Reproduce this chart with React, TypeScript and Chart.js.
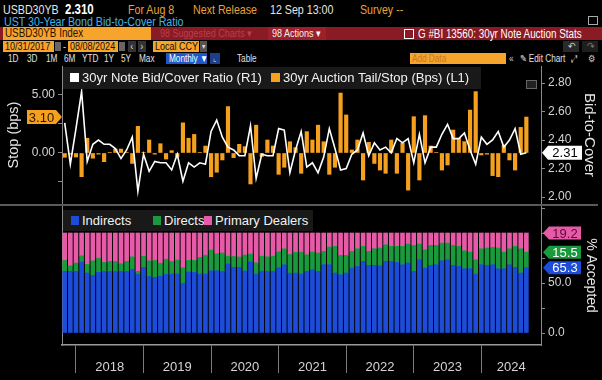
import React, { useEffect, useRef } from "react";
import { Chart, registerables } from "chart.js";
Chart.register(...registerables);

// Monthly 30yr auctions, Nov 2017 (index 0) .. Aug 2024 (index 82)
const stopBps = [
  -0.37, -0.1, -0.35, -2.04, 1.27, -0.45, -0.1, -0.75, 0.05, 0.34,
  0.34, 0.05, -0.9, 2.3, 0.05, 1.12, -0.1, 0.8, -0.52, 0.2,
  -0.3, 2.6, 1.27, 1.6, 0.05, 0.6, -2.05, -1.66, -0.6, 4.0,
  -0.4, 0.75, 0.55, -2.67, 2.4, -0.3, 1.12, 0.6, -1.84, -1.23,
  0.97, 0.46, -1.75, 1.84, 1.12, 2.4, 0.97, -1.84, -1.23, 5.17,
  3.28, 0.26, 1.12, -2.33, 0.92, -0.9, -1.47, -1.75, 1.12, -1.75,
  0.83, -3.2, 3.13, -2.33, 3.22, 0.6, 0.05, -1.47, -1.03, 1.98,
  1.26, 0.98, 3.7, 5.29, -0.17, -0.1, -1.95, -2.04, 0.69, -0.6,
  -1.47, 2.21, 3.1,
];
const bidCover = [
  2.52, 2.23, 2.48, 2.74, 2.25, 2.37, 2.4, 2.37, 2.37, 2.34,
  2.27, 2.33, 2.42, 2.04, 2.3, 2.18, 2.25, 2.24, 2.24, 2.19,
  2.3, 2.11, 2.24, 2.21, 2.24, 2.23, 2.46, 2.54, 2.42, 2.35,
  2.33, 2.29, 2.29, 2.5, 2.13, 2.3, 2.29, 2.29, 2.48, 2.47,
  2.17, 2.33, 2.46, 2.21, 2.24, 2.17, 2.28, 2.48, 2.34, 2.19,
  2.2, 2.3, 2.33, 2.45, 2.29, 2.38, 2.33, 2.35, 2.31, 2.41,
  2.38, 2.41, 2.24, 2.44, 2.24, 2.35, 2.35, 2.44, 2.51, 2.41,
  2.41, 2.45, 2.33, 2.23, 2.42, 2.37, 2.4, 2.46, 2.35, 2.4,
  2.48, 2.3, 2.31,
];
const indirects = [
  61.7, 61.5, 61.5, 71.0, 60.0, 57.7, 60.7, 61.5, 61.5, 61.5,
  61.5, 61.5, 63.5, 58.5, 65.7, 56.5, 55.7, 56.8, 58.7, 59.0,
  59.0, 49.8, 61.0, 60.7, 59.0, 59.0, 62.3, 62.3, 61.5, 69.0,
  65.7, 65.7, 62.0, 71.2, 59.0, 61.8, 61.7, 61.7, 65.3, 68.2,
  59.8, 60.0, 59.0, 61.7, 63.3, 61.7, 68.3, 68.3, 60.0, 58.3,
  60.0, 65.0, 66.7, 71.7, 67.7, 67.7, 67.2, 71.7, 71.7, 70.7,
  68.3, 70.0, 61.7, 73.3, 65.0, 67.7, 68.3, 72.3, 73.3, 67.7,
  66.7, 64.3, 64.3, 59.0, 68.3, 67.7, 68.3, 64.3, 64.3, 68.3,
  65.7, 60.0, 65.3,
];
const directs = [
  10.8, 5.7, 8.5, 6.2, 8.7, 14.5, 14.1, 9.0, 10.0, 10.0,
  7.8, 10.0, 12.7, 3.0, 11.1, 15.7, 16.8, 13.0, 15.1, 12.5,
  14.0, 15.5, 11.7, 12.0, 16.7, 18.8, 20.7, 17.0, 18.5, 7.8,
  10.8, 10.3, 16.0, 7.8, 11.2, 15.0, 14.6, 15.1, 15.9, 16.0,
  18.7, 20.7, 22.0, 16.6, 17.7, 18.3, 13.4, 17.7, 26.7, 19.4,
  17.7, 16.7, 17.6, 15.0, 14.0, 16.6, 17.8, 16.6, 15.0, 16.0,
  18.4, 19.0, 26.0, 15.7, 18.3, 20.0, 19.4, 17.7, 16.7, 20.0,
  20.0, 18.0, 16.7, 14.3, 16.0, 17.3, 17.4, 20.7, 16.7, 16.0,
  21.0, 24.3, 15.5,
];
const dealers = [
  27.5, 32.8, 30.0, 22.8, 31.3, 27.8, 25.2, 29.5, 28.5, 28.5,
  30.7, 28.5, 23.8, 38.5, 23.2, 27.8, 27.5, 30.2, 26.2, 28.5,
  27.0, 34.7, 27.3, 27.3, 24.3, 22.2, 17.0, 20.7, 20.0, 23.2,
  23.5, 24.0, 22.0, 21.0, 29.8, 23.2, 23.7, 23.2, 18.8, 15.8,
  21.5, 19.3, 19.0, 21.7, 19.0, 20.0, 18.3, 14.0, 13.3, 22.3,
  22.3, 18.3, 15.7, 13.3, 18.3, 15.7, 15.0, 11.7, 13.3, 13.3,
  13.3, 11.0, 12.3, 11.0, 16.7, 12.3, 12.3, 10.0, 10.0, 12.3,
  13.3, 17.7, 19.0, 26.7, 15.7, 15.0, 14.3, 15.0, 19.0, 15.7,
  13.3, 15.7, 19.2,
];
const yearLabels = ["2018", "2019", "2020", "2021", "2022", "2023", "2024"];
const januaryIndex = [2, 14, 26, 38, 50, 62, 74];
const stopTicks = [-2.5, 0, 2.5, 5];
const coverTicks = [2.0, 2.2, 2.4, 2.6, 2.8];
const acceptedTicks = [0, 25, 50, 75, 100, 125];

const X_MIN = -0.48;
const X_MAX = 84.6;
const FONT = "'Liberation Sans', Arial, sans-serif";

const ORANGE = "#f5a01e";
const BLUE = "#1c4cd8";
const GREEN = "#1a9a3c";
const PINK = "#e75aa8";
const AXIS = "#8a8a8a";
const TICKTXT = "#d4d4d4";

function drawTag(
  ctx: CanvasRenderingContext2D,
  dir: "left" | "right",
  tipX: number,
  y: number,
  w: number,
  h: number,
  fill: string,
  text: string,
  color: string
) {
  const a = 6;
  const s = dir === "left" ? 1 : -1;
  ctx.save();
  ctx.beginPath();
  ctx.moveTo(tipX, y);
  ctx.lineTo(tipX + s * a, y - h / 2);
  ctx.lineTo(tipX + s * w, y - h / 2);
  ctx.lineTo(tipX + s * w, y + h / 2);
  ctx.lineTo(tipX + s * a, y + h / 2);
  ctx.closePath();
  ctx.fillStyle = fill;
  ctx.fill();
  ctx.fillStyle = color;
  ctx.font = "13px " + FONT;
  ctx.textAlign = "center";
  ctx.textBaseline = "middle";
  const cx = tipX + s * (a + (w - a) / 2);
  ctx.fillText(text, cx, y + 1);
  ctx.restore();
}

function fixAxis(width: number) {
  return (s: any) => {
    s.width = width;
    s.paddingTop = 0;
    s.paddingBottom = 0;
  };
}

const T = (p: {
  x: number;
  y: number;
  c?: string;
  s?: number;
  b?: boolean;
  wide?: boolean;
  children: React.ReactNode;
}) => (
  <div
    style={{
      position: "absolute",
      left: p.x,
      top: p.y,
      color: p.c || "#e8e8e8",
      fontSize: p.s || 13,
      fontWeight: p.b ? 700 : 400,
      fontFamily: FONT,
      whiteSpace: "nowrap",
      lineHeight: 1,
      transform: p.wide ? "none" : "scaleX(0.82)",
      transformOrigin: "left center",
    }}
  >
    {p.children}
  </div>
);

const Box = (p: {
  x: number;
  y: number;
  w: number;
  h: number;
  bg: string;
  children?: React.ReactNode;
  c?: string;
  s?: number;
  pad?: number;
  center?: boolean;
}) => (
  <div
    style={{
      position: "absolute",
      left: p.x,
      top: p.y,
      width: p.w,
      height: p.h,
      background: p.bg,
      color: p.c || "#111",
      fontSize: p.s || 11,
      fontFamily: FONT,
      lineHeight: p.h + "px",
      paddingLeft: p.pad || 0,
      boxSizing: "border-box",
      whiteSpace: "nowrap",
      overflow: "hidden",
      textAlign: p.center ? "center" : "left",
    }}
  >
    <span style={{ display: "inline-block", transform: "scaleX(0.82)", transformOrigin: p.center ? "center" : "left center" }}>
      {p.children}
    </span>
  </div>
);

export default function App() {
  const topRef = useRef<HTMLCanvasElement>(null);
  const botRef = useRef<HTMLCanvasElement>(null);

  useEffect(() => {
    document.body.style.margin = "0";
    document.body.style.background = "#000";
    const last = stopBps.length - 1;

    const topTags = {
      id: "topTags",
      afterDraw(chart: any) {
        const ctx = chart.ctx;
        const yL = chart.scales.yL;
        const yR = chart.scales.yR;
        drawTag(ctx, "right", chart.chartArea.left, yL.getPixelForValue(stopBps[last]), 35, 14, ORANGE, stopBps[last].toFixed(2), "#2a1800");
        drawTag(ctx, "left", chart.chartArea.right + 1, yR.getPixelForValue(bidCover[last]), 40, 14, "#ffffff", bidCover[last].toFixed(2), "#000");
      },
    };

    const botDecor = {
      id: "botDecor",
      afterDraw(chart: any) {
        const ctx = chart.ctx;
        const x = chart.scales.x;
        const yB = chart.scales.yB;
        ctx.save();
        ctx.fillStyle = TICKTXT;
        ctx.font = "13px " + FONT;
        ctx.textAlign = "center";
        ctx.textBaseline = "middle";
        yearLabels.forEach((lab, k) => {
          const a = januaryIndex[k];
          const b = k + 1 < januaryIndex.length ? januaryIndex[k + 1] : X_MAX;
          ctx.fillText(lab, x.getPixelForValue((a + b) / 2), chart.chartArea.bottom + 22);
        });
        ctx.restore();
        const right = chart.chartArea.right + 2;
        const ind = indirects[last];
        const dir = directs[last];
        const dea = dealers[last];
        drawTag(ctx, "left", right, yB.getPixelForValue(ind + dir + dea), 38, 13, PINK, dea.toFixed(1), "#5a0a36");
        drawTag(ctx, "left", right, yB.getPixelForValue(ind + dir), 38, 13, GREEN, dir.toFixed(1), "#ffffff");
        drawTag(ctx, "left", right, yB.getPixelForValue(ind), 38, 13, BLUE, ind.toFixed(1), "#ffffff");
      },
    };

    const top = new Chart(topRef.current!, {
      type: "bar",
      data: {
        datasets: [
          {
            type: "line",
            label: "30yr Note Bid/Cover Ratio (R1)",
            data: bidCover.map((v, i) => ({ x: i, y: v })),
            yAxisID: "yR",
            borderColor: "#ffffff",
            borderWidth: 1.6,
            pointRadius: 0,
            tension: 0,
            order: 0,
          } as any,
          {
            type: "bar",
            label: "30yr Auction Tail/Stop (Bps) (L1)",
            data: stopBps.map((v, i) => ({ x: i, y: v })),
            yAxisID: "yL",
            backgroundColor: ORANGE,
            barThickness: 3.5,
            order: 1,
          } as any,
        ],
      },
      options: {
        responsive: false,
        animation: false,
        devicePixelRatio: 1,
        layout: { padding: 0 },
        plugins: { legend: { display: false }, tooltip: { enabled: false } },
        scales: {
          x: { type: "linear", min: X_MIN, max: X_MAX, offset: false, display: false, grid: { offset: false } },
          yL: {
            position: "left",
            min: -4.397,
            max: 7.5,
            afterBuildTicks: (s: any) => {
              s.ticks = stopTicks.map((v) => ({ value: v }));
            },
            afterFit: fixAxis(62),
            ticks: {
              color: TICKTXT,
              font: { family: FONT, size: 12 },
              padding: 3,
              callback: (v: any) => (Number(v) % 5 === 0 ? Number(v).toFixed(2) : ""),
            },
            grid: { drawOnChartArea: false, drawTicks: true, tickLength: 4, color: AXIS },
            border: { display: true, color: AXIS, width: 1 },
            title: { display: true, text: "Stop (bps)", color: "#e4e4e4", font: { family: FONT, size: 14.5 }, padding: { top: 5, bottom: 0 } },
          },
          yR: {
            position: "right",
            min: 1.9509,
            max: 2.9193,
            afterBuildTicks: (s: any) => {
              s.ticks = coverTicks.map((v) => ({ value: v }));
            },
            afterFit: fixAxis(61),
            ticks: {
              color: TICKTXT,
              font: { family: FONT, size: 12 },
              padding: 3,
              callback: (v: any) => Number(v).toFixed(2),
            },
            grid: { drawOnChartArea: false, drawTicks: true, tickLength: 4, color: AXIS },
            border: { display: true, color: AXIS, width: 1 },
            title: { display: true, text: "Bid-to-Cover", color: "#e4e4e4", font: { family: FONT, size: 15 }, padding: { top: 4, bottom: 0 } },
          },
        },
      } as any,
      plugins: [topTags],
    });

    const bot = new Chart(botRef.current!, {
      type: "bar",
      data: {
        datasets: [
          { label: "Indirects", data: indirects.map((v, i) => ({ x: i, y: v })), backgroundColor: BLUE, barThickness: 4, yAxisID: "yB", stack: "s" } as any,
          { label: "Directs", data: directs.map((v, i) => ({ x: i, y: v })), backgroundColor: GREEN, barThickness: 4, yAxisID: "yB", stack: "s" } as any,
          { label: "Primary Dealers", data: dealers.map((v, i) => ({ x: i, y: v })), backgroundColor: PINK, barThickness: 4, yAxisID: "yB", stack: "s" } as any,
        ],
      },
      options: {
        responsive: false,
        animation: false,
        devicePixelRatio: 1,
        layout: { padding: 0 },
        plugins: { legend: { display: false }, tooltip: { enabled: false } },
        scales: {
          x: {
            type: "linear",
            min: X_MIN,
            max: X_MAX,
            offset: false,
            stacked: true,
            afterBuildTicks: (s: any) => {
              s.ticks = januaryIndex.map((v) => ({ value: v }));
            },
            afterFit: (s: any) => {
              s.height = 35;
              s.paddingLeft = 0;
              s.paddingRight = 0;
            },
            ticks: { display: false, autoSkip: false },
            grid: { offset: false, drawOnChartArea: false, drawTicks: true, tickLength: 28, color: "#7a7a7a" },
            border: { display: true, color: "#9a9a9a", width: 1.5 },
          },
          yL2: {
            position: "left",
            afterFit: fixAxis(62),
            ticks: { display: false },
            grid: { display: false },
            border: { display: true, color: AXIS, width: 1 },
          },
          yB: {
            position: "right",
            stacked: true,
            min: -12,
            max: 127,
            afterBuildTicks: (s: any) => {
              s.ticks = acceptedTicks.map((v) => ({ value: v }));
            },
            afterFit: fixAxis(61),
            ticks: {
              color: TICKTXT,
              font: { family: FONT, size: 12 },
              padding: 3,
              callback: (v: any) => (Number(v) === 0 || Number(v) === 50 ? Number(v).toFixed(1) : ""),
            },
            grid: { drawOnChartArea: false, drawTicks: true, tickLength: 4, color: AXIS },
            border: { display: true, color: AXIS, width: 1 },
            title: { display: true, text: "% Accepted", color: "#e4e4e4", font: { family: FONT, size: 14 }, padding: { top: 3, bottom: 0 } },
          },
        },
      } as any,
      plugins: [botDecor],
    });

    return () => {
      top.destroy();
      bot.destroy();
    };
  }, []);

  const OR = "#e9a23b";
  const OBOX = "#f6a42c";
  return (
    <div
      style={{
        position: "absolute",
        left: 0,
        top: 0,
        width: 602,
        height: 380,
        background: "#000",
        overflow: "hidden",
        fontFamily: FONT,
      }}
    >
      {/* Row 1 */}
      <T x={3} y={3} s={13} c="#e6e6e6">USBD30YB</T>
      <T x={65} y={2} s={14} b c="#ffffff">2.310</T>
      <T x={128} y={3} c={OR}>For Aug 8</T>
      <T x={193} y={3} c={OR}>Next Release</T>
      <T x={270} y={3} c="#e6e6e6">12 Sep 13:00</T>
      <T x={360} y={3} c={OR}>Survey --</T>
      {/* Row 2 */}
      <T x={4} y={15} c="#45b3e4">UST 30-Year Bond Bid-to-Cover Ratio</T>
      <div style={{ position: "absolute", left: 588, top: 16, width: 8, height: 7, border: "1px solid #aaa" }} />
      {/* Row 3 */}
      <div style={{ position: "absolute", left: 0, top: 27, width: 602, height: 13, background: "#8a1a24" }} />
      <div style={{ position: "absolute", left: 268, top: 27, width: 58, height: 13, background: "#9c1f2b" }} />
      <Box x={3} y={27} w={148} h={13} bg={OBOX} c="#2a1200" s={12} pad={2}>USBD30YB Index</Box>
      <T x={160} y={28} s={11} c="#b8404c">98 Suggested Charts ▾</T>
      <T x={272} y={28} s={11} c="#f0f0f0">98 Actions ▾</T>
      <div style={{ position: "absolute", left: 404, top: 29, width: 8, height: 8, border: "1px solid #fff" }} />
      <T x={418} y={28} s={12} c="#ffffff">G #BI 13560: 30yr Note Auction Stats</T>
      {/* Row 4 */}
      <Box x={3} y={41} w={51} h={11} bg={OBOX} pad={2}>10/31/2017</Box>
      <Box x={55} y={42} w={6} h={9} bg="#666" />
      <T x={63} y={41} s={11} c="#ddd">-</T>
      <Box x={68} y={41} w={50} h={11} bg={OBOX} pad={2}>08/08/2024</Box>
      <Box x={119} y={42} w={6} h={9} bg="#666" />
      <Box x={128} y={41} w={8} h={11} bg="#333" c="#ddd" center>‹</Box>
      <Box x={138} y={41} w={8} h={11} bg="#333" c="#ddd" center>›</Box>
      <Box x={153} y={41} w={46} h={11} bg={OBOX} pad={2}>Local CCY</Box>
      <Box x={200} y={41} w={7} h={11} bg="#555" c="#ddd" s={8} center>▾</Box>
      <Box x={563} y={41} w={16} h={11} bg="#2a2a2a" c="#ccc" center>↶</Box>
      <Box x={582} y={41} w={16} h={11} bg="#1e1e1e" c="#777" center>↷</Box>
      {/* Row 5 */}
      {[["1D", 8], ["3D", 27], ["1M", 46], ["6M", 64], ["YTD", 82], ["1Y", 104], ["5Y", 121], ["Max", 139]].map(([t, x]) => (
        <T key={t as string} x={x as number} y={54} s={10} c="#e0e0e0">{t}</T>
      ))}
      <Box x={166} y={53} w={41} h={11} bg="#1d57c8" c="#fff" s={10} pad={3}>Monthly ▼</Box>
      <Box x={210} y={53} w={10} h={11} bg="#1d3f8a" c="#9cf" s={9} center>⌞</Box>
      <T x={237} y={54} s={10} c="#e0e0e0">Table</T>
      <Box x={410} y={53} w={96} h={11} bg={OBOX} c="#c47a20" s={10} pad={2}>Add Data</Box>
      <T x={509} y={54} s={10} c="#ccc">«</T>
      <T x={520} y={54} s={10} c="#e0e0e0">✎ Edit Chart</T>
      <T x={571} y={54} s={10} c="#ccc">⤢</T>
      <T x={588} y={54} s={10} c="#ccc">⚙</T>

      <canvas ref={topRef} width={602} height={138} style={{ position: "absolute", left: 0, top: 66, width: 602, height: 138 }} />
      <div style={{ position: "absolute", left: 0, top: 204, width: 598, height: 2, background: "#5a5a5a" }} />
      <canvas ref={botRef} width={602} height={174} style={{ position: "absolute", left: 0, top: 206, width: 602, height: 174 }} />

      {/* top legend */}
      <div style={{ position: "absolute", left: 63, top: 67, width: 418, height: 22, background: "#191919" }} />
      <div style={{ position: "absolute", left: 70, top: 73, width: 9, height: 9, background: "#fff" }} />
      <T x={82} y={71} s={13} wide c="#f2f2f2">30yr Note Bid/Cover Ratio (R1)</T>
      <div style={{ position: "absolute", left: 271, top: 73, width: 9, height: 9, background: ORANGE }} />
      <T x={283} y={71} s={13} wide c="#f2f2f2">30yr Auction Tail/Stop (Bps) (L1)</T>
      <div style={{ position: "absolute", left: 526, top: 80, width: 9, height: 7, border: "1px solid #666", background: "#222" }} />

      {/* bottom legend */}
      <div style={{ position: "absolute", left: 63, top: 210, width: 250, height: 21, background: "#191919" }} />
      <div style={{ position: "absolute", left: 71, top: 216, width: 8, height: 9, background: BLUE }} />
      <T x={82} y={214} s={13} wide c="#f2f2f2">Indirects</T>
      <div style={{ position: "absolute", left: 153, top: 216, width: 8, height: 9, background: GREEN }} />
      <T x={164} y={214} s={13} wide c="#f2f2f2">Directs</T>
      <div style={{ position: "absolute", left: 204, top: 216, width: 8, height: 9, background: PINK }} />
      <T x={215} y={214} s={13} wide c="#f2f2f2">Primary Dealers</T>
    </div>
  );
}
